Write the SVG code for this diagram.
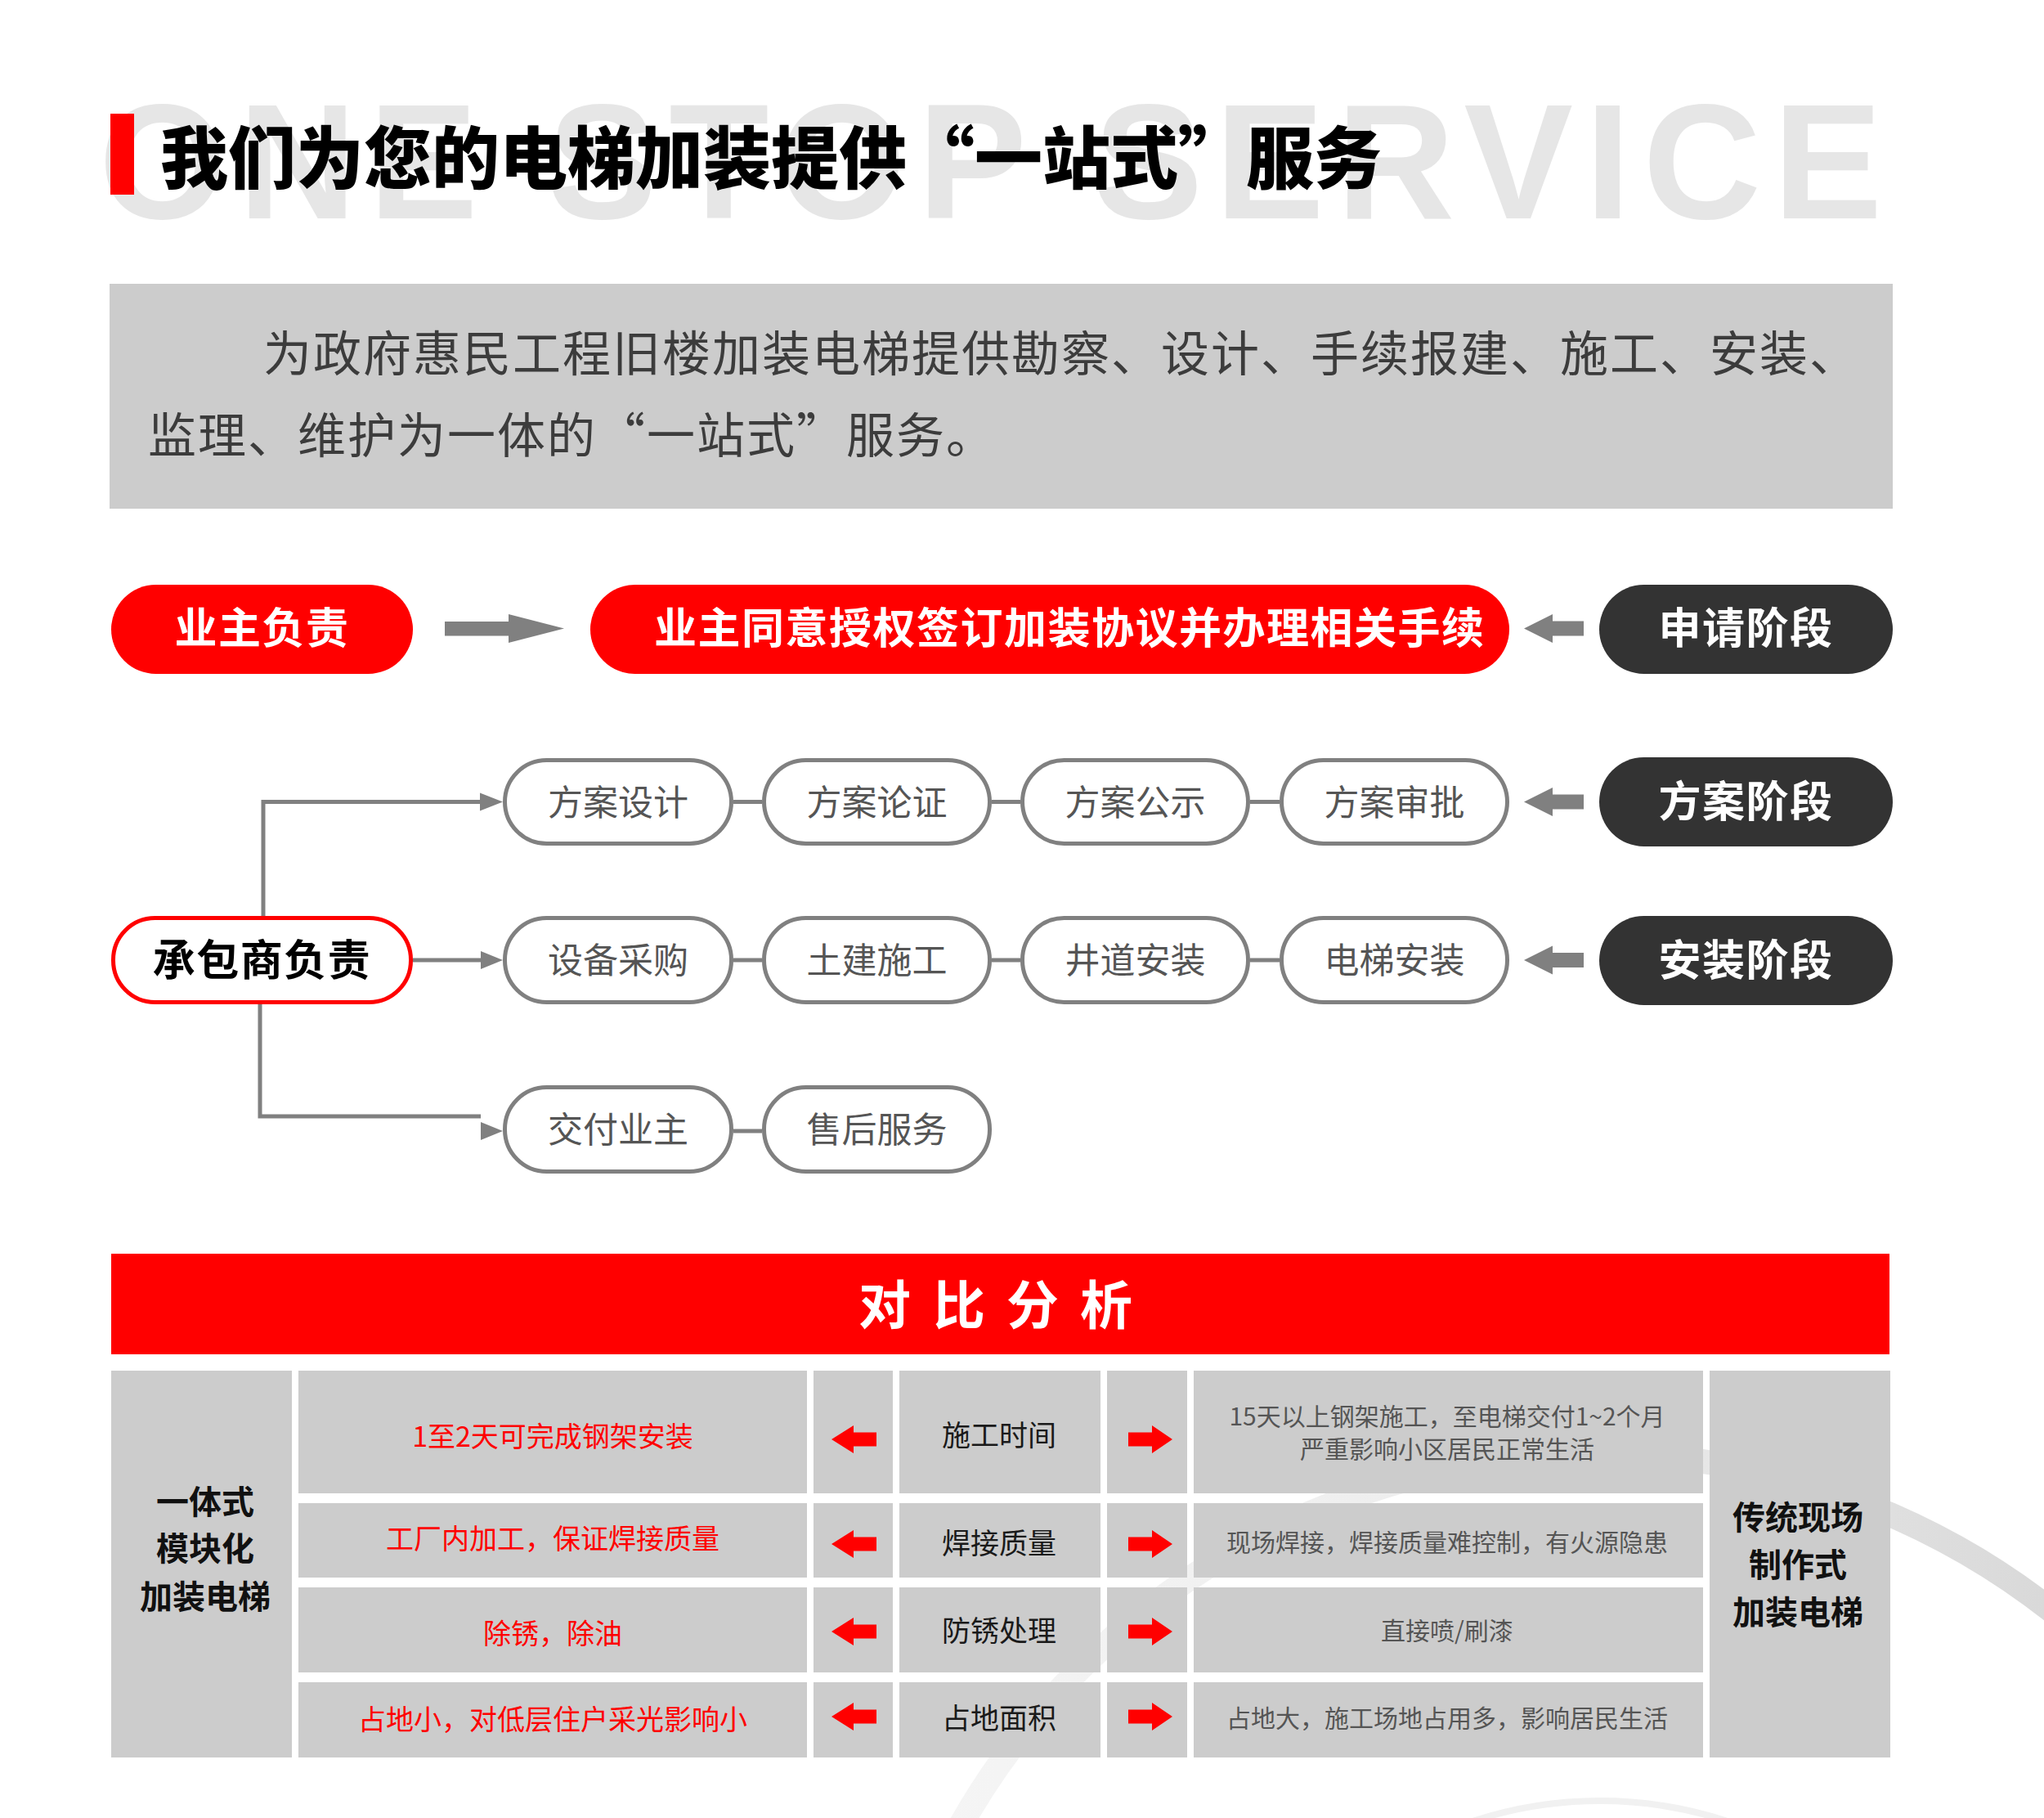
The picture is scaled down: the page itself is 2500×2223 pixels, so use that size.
<svg xmlns="http://www.w3.org/2000/svg" width="2500" height="2223" viewBox="0 0 2500 2223">
  <defs>
    <linearGradient id="ringGrad" gradientUnits="userSpaceOnUse" x1="1050" y1="0" x2="2500" y2="0">
      <stop offset="0" stop-color="#f6f6f6"/>
      <stop offset="0.6" stop-color="#ececec"/>
      <stop offset="1" stop-color="#d9d9d9"/>
    </linearGradient>
    <style>
      .cjk { font-family: 'Noto Sans CJK SC', 'Noto Sans', sans-serif; }
      .pillW { font-family: 'Noto Sans CJK SC', sans-serif; font-size: 52px; font-weight: 700; fill: #ffffff; letter-spacing: 1.5px; }
      .pillB { font-family: 'Noto Sans CJK SC', sans-serif; font-size: 52px; font-weight: 700; fill: #000000; letter-spacing: 1.5px; }
      .red { fill: #ff0000; }
      .dark { fill: #333333; }
      .outline { fill: #ffffff; stroke: #808080; stroke-width: 5; }
      .step { font-family: 'Noto Sans CJK SC', sans-serif; font-size: 43px; fill: #555555; text-anchor: middle; }
      .conn { fill: none; stroke: #808080; stroke-width: 5; }
      .ahead { fill: #808080; }
      .cell { fill: #cccccc; }
      .tRed { font-family: 'Noto Sans CJK SC', sans-serif; font-size: 34px; fill: #ff0000; text-anchor: middle; }
      .tLab { font-family: 'Noto Sans CJK SC', sans-serif; font-size: 35px; fill: #1a1a1a; text-anchor: middle; }
      .tGray { font-family: 'Noto Sans CJK SC', sans-serif; font-size: 30px; fill: #555555; text-anchor: middle; }
      .tSide { font-family: 'Noto Sans CJK SC', sans-serif; font-size: 40px; font-weight: 700; fill: #111111; text-anchor: middle; }
      .rArrow { fill: #ff0000; }
    </style>
  </defs>

  <rect x="0" y="0" width="2500" height="2223" fill="#ffffff"/>

  <!-- decorative background ring -->
  <g id="bg-ring">
    <circle cx="1955" cy="2675" r="897" fill="none" stroke="url(#ringGrad)" stroke-width="30"/>
    <circle cx="1957" cy="2699" r="497" fill="none" stroke="#f1f1f1" stroke-width="8"/>
  </g>

  <!-- header -->
  <g id="header">
    <text x="121" y="267" font-family="'Liberation Sans', Arial, sans-serif" font-size="200" font-weight="700" fill="#e6e6e6" letter-spacing="15">ONE STOP SERVICE</text>
    <rect x="135" y="139" width="29" height="99" fill="#ff0000"/>
    <text x="196" y="224" class="cjk" font-size="83" font-weight="900" fill="#000000">我们为您的电梯加装提供“一站式”服务</text>
  </g>

  <g id="intro">
    <rect x="134" y="347" width="2181" height="275" fill="#cccccc"/>
    <text x="322" y="454" class="cjk" font-size="59" fill="#3c3c3c" letter-spacing="2">为政府惠民工程旧楼加装电梯提供勘察、设计、手续报建、施工、安装、</text>
    <text x="181" y="554" class="cjk" font-size="59" fill="#3c3c3c" letter-spacing="2">监理、维护为一体的“一站式”服务。</text>
  </g>

  <!-- connectors -->
  <g id="connectors">
    <polygon class="ahead" points="544,760 622,760 622,751 690,768.5 622,786 622,777.5 544,777.5"/>
    <polygon class="ahead" points="1864,768.5 1899,751 1899,759.5 1937,759.5 1937,777.5 1899,777.5 1899,786"/>
    <polygon class="ahead" points="1864,980.5 1899,963 1899,971.5 1937,971.5 1937,989.5 1899,989.5 1899,998"/>
    <polygon class="ahead" points="1864,1174 1899,1156.5 1899,1165 1937,1165 1937,1183 1899,1183 1899,1191.5"/>

    <path class="conn" d="M322,1120 V980.5 H588"/>
    <polygon class="ahead" points="587,969.5 615,980.5 587,991.5"/>
    <path class="conn" d="M505,1174 H588"/>
    <polygon class="ahead" points="588,1163 615,1174 588,1185"/>
    <path class="conn" d="M318,1228 V1365 H588"/>
    <polygon class="ahead" points="588,1372 615,1383 588,1394"/>

    <path class="conn" d="M897,980.5 H932 M1213,980.5 H1248 M1529,980.5 H1565"/>
    <path class="conn" d="M897,1174 H932 M1213,1174 H1248 M1529,1174 H1565"/>
    <path class="conn" d="M897,1383 H932"/>
  </g>

  <!-- owner row -->
  <g id="node-owner">
    <rect class="red" x="136" y="715" width="369" height="109" rx="54.5"/>
    <text class="pillW" x="320.5" y="787" text-anchor="middle">业主负责</text>
  </g>
  <g id="node-owner-task">
    <rect class="red" x="722" y="715" width="1124" height="109" rx="54.5"/>
    <text class="pillW" x="800" y="787">业主同意授权签订加装协议并办理相关手续</text>
  </g>
  <g id="node-stage-apply">
    <rect class="dark" x="1956" y="715" width="359" height="109" rx="54.5"/>
    <text class="pillW" x="2135.5" y="787" text-anchor="middle">申请阶段</text>
  </g>
  <g id="node-stage-plan">
    <rect class="dark" x="1956" y="926" width="359" height="109" rx="54.5"/>
    <text class="pillW" x="2135.5" y="999" text-anchor="middle">方案阶段</text>
  </g>
  <g id="node-stage-install">
    <rect class="dark" x="1956" y="1120" width="359" height="109" rx="54.5"/>
    <text class="pillW" x="2135.5" y="1193" text-anchor="middle">安装阶段</text>
  </g>

  <g id="node-contractor">
    <rect x="138.5" y="1122.5" width="364" height="103" rx="51" fill="#ffffff" stroke="#ff0000" stroke-width="5"/>
    <text class="pillB" x="320.5" y="1193" text-anchor="middle">承包商负责</text>
  </g>

  <!-- plan steps -->
  <g id="node-plan-design">
    <rect class="outline" x="617.5" y="929.5" width="277" height="102" rx="51"/>
    <text class="step" x="756" y="997">方案设计</text>
  </g>
  <g id="node-plan-review">
    <rect class="outline" x="934.5" y="929.5" width="276" height="102" rx="51"/>
    <text class="step" x="1072.5" y="997">方案论证</text>
  </g>
  <g id="node-plan-public">
    <rect class="outline" x="1250.5" y="929.5" width="276" height="102" rx="51"/>
    <text class="step" x="1388.5" y="997">方案公示</text>
  </g>
  <g id="node-plan-approve">
    <rect class="outline" x="1567.5" y="929.5" width="276" height="102" rx="51"/>
    <text class="step" x="1705.5" y="997">方案审批</text>
  </g>

  <!-- install steps -->
  <g id="node-inst-purchase">
    <rect class="outline" x="617.5" y="1122.5" width="277" height="103" rx="51"/>
    <text class="step" x="756" y="1190">设备采购</text>
  </g>
  <g id="node-inst-civil">
    <rect class="outline" x="934.5" y="1122.5" width="276" height="103" rx="51"/>
    <text class="step" x="1072.5" y="1190">土建施工</text>
  </g>
  <g id="node-inst-shaft">
    <rect class="outline" x="1250.5" y="1122.5" width="276" height="103" rx="51"/>
    <text class="step" x="1388.5" y="1190">井道安装</text>
  </g>
  <g id="node-inst-elevator">
    <rect class="outline" x="1567.5" y="1122.5" width="276" height="103" rx="51"/>
    <text class="step" x="1705.5" y="1190">电梯安装</text>
  </g>

  <!-- delivery -->
  <g id="node-deliver">
    <rect class="outline" x="617.5" y="1329.5" width="277" height="103" rx="51"/>
    <text class="step" x="756" y="1397">交付业主</text>
  </g>
  <g id="node-aftersales">
    <rect class="outline" x="934.5" y="1329.5" width="276" height="103" rx="51"/>
    <text class="step" x="1072.5" y="1397">售后服务</text>
  </g>

  <!-- comparison -->
  <g id="compare-banner">
    <rect x="136" y="1533" width="2175" height="123" fill="#ff0000"/>
    <text class="cjk" x="1050 1114 1141 1205 1231 1295 1321" y="1619" font-size="64" font-weight="700" fill="#ffffff">对 比 分 析</text>
  </g>

  <g id="compare-left">
    <rect class="cell" x="136" y="1676" width="221" height="473"/>
    <text class="tSide" x="251" y="1851">一体式</text>
    <text class="tSide" x="251" y="1908">模块化</text>
    <text class="tSide" x="251" y="1967">加装电梯</text>
  </g>
  <g id="compare-right">
    <rect class="cell" x="2091" y="1676" width="221" height="473"/>
    <text class="tSide" x="2199" y="1870">传统现场</text>
    <text class="tSide" x="2199" y="1928">制作式</text>
    <text class="tSide" x="2199" y="1986">加装电梯</text>
  </g>

  <g id="compare-row-time">
    <rect class="cell" x="365" y="1676" width="622" height="150"/>
    <rect class="cell" x="995" y="1676" width="97" height="150"/>
    <rect class="cell" x="1100" y="1676" width="246" height="150"/>
    <rect class="cell" x="1354" y="1676" width="98" height="150"/>
    <rect class="cell" x="1460" y="1676" width="623" height="150"/>
    <polygon class="rArrow" points="1017,1760 1044,1743 1044,1751.5 1072,1751.5 1072,1768.5 1044,1768.5 1044,1777"/>
    <polygon class="rArrow" points="1434,1760 1409,1743 1409,1751.5 1380,1751.5 1380,1768.5 1409,1768.5 1409,1777"/>
    <text class="tRed" x="676" y="1769">1至2天可完成钢架安装</text>
    <text class="tLab" x="1222" y="1768">施工时间</text>
    <text class="tGray" x="1770" y="1743">15天以上钢架施工，至电梯交付1~2个月</text>
    <text class="tGray" x="1770" y="1783">严重影响小区居民正常生活</text>
  </g>

  <g id="compare-row-weld">
    <rect class="cell" x="365" y="1838" width="622" height="91"/>
    <rect class="cell" x="995" y="1838" width="97" height="91"/>
    <rect class="cell" x="1100" y="1838" width="246" height="91"/>
    <rect class="cell" x="1354" y="1838" width="98" height="91"/>
    <rect class="cell" x="1460" y="1838" width="623" height="91"/>
    <polygon class="rArrow" points="1017,1888 1044,1871 1044,1879.5 1072,1879.5 1072,1896.5 1044,1896.5 1044,1905"/>
    <polygon class="rArrow" points="1434,1888 1409,1871 1409,1879.5 1380,1879.5 1380,1896.5 1409,1896.5 1409,1905"/>
    <text class="tRed" x="676" y="1894">工厂内加工，保证焊接质量</text>
    <text class="tLab" x="1222" y="1900">焊接质量</text>
    <text class="tGray" x="1770" y="1897">现场焊接，焊接质量难控制，有火源隐患</text>
  </g>

  <g id="compare-row-rust">
    <rect class="cell" x="365" y="1941" width="622" height="104"/>
    <rect class="cell" x="995" y="1941" width="97" height="104"/>
    <rect class="cell" x="1100" y="1941" width="246" height="104"/>
    <rect class="cell" x="1354" y="1941" width="98" height="104"/>
    <rect class="cell" x="1460" y="1941" width="623" height="104"/>
    <polygon class="rArrow" points="1017,1995 1044,1978 1044,1986.5 1072,1986.5 1072,2003.5 1044,2003.5 1044,2012"/>
    <polygon class="rArrow" points="1434,1995 1409,1978 1409,1986.5 1380,1986.5 1380,2003.5 1409,2003.5 1409,2012"/>
    <text class="tRed" x="676" y="2010">除锈，除油</text>
    <text class="tLab" x="1222" y="2007">防锈处理</text>
    <text class="tGray" x="1770" y="2005">直接喷/刷漆</text>
  </g>

  <g id="compare-row-area">
    <rect class="cell" x="365" y="2057" width="622" height="92"/>
    <rect class="cell" x="995" y="2057" width="97" height="92"/>
    <rect class="cell" x="1100" y="2057" width="246" height="92"/>
    <rect class="cell" x="1354" y="2057" width="98" height="92"/>
    <rect class="cell" x="1460" y="2057" width="623" height="92"/>
    <polygon class="rArrow" points="1017,2099 1044,2082 1044,2090.5 1072,2090.5 1072,2107.5 1044,2107.5 1044,2116"/>
    <polygon class="rArrow" points="1434,2099 1409,2082 1409,2090.5 1380,2090.5 1380,2107.5 1409,2107.5 1409,2116"/>
    <text class="tRed" x="676" y="2115">占地小，对低层住户采光影响小</text>
    <text class="tLab" x="1222" y="2114">占地面积</text>
    <text class="tGray" x="1770" y="2112">占地大，施工场地占用多，影响居民生活</text>
  </g>
</svg>
